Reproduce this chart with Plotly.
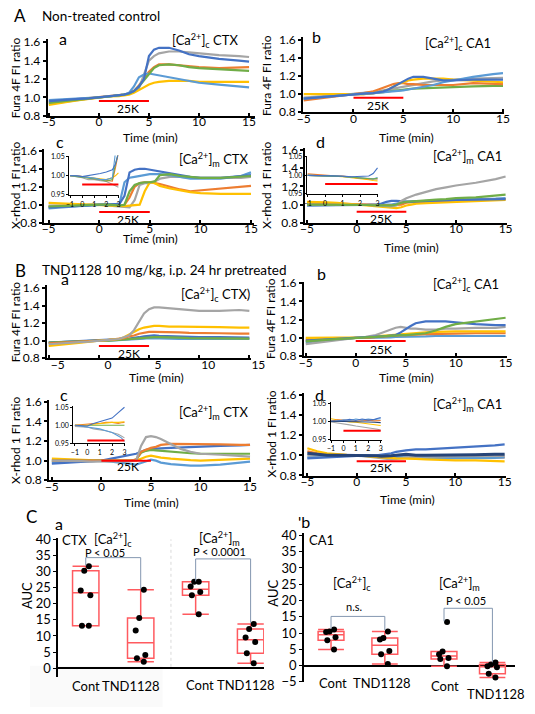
import plotly.graph_objects as go

W, H = 535, 714
FONT = "Lato"

COL = dict(blue="#4472C4", orange="#ED7D31", gray="#A5A5A5", yellow="#FFC000",
           lightblue="#5B9BD5", green="#70AD47", navy="#264478")

# ---------------- data ----------------
T = [-5, -4, -3, -2, -1, 0, 1, 2, 2.5, 3, 3.5, 4, 4.5, 5, 5.5, 6, 7, 8, 9, 10, 12, 14, 15]
TI = [-1, -0.5, 0, 0.5, 1, 1.5, 2, 2.5, 2.75, 3]
X_TICKS = [-5, 0, 5, 10, 15]
Y_TICKS = [0.8, 1.0, 1.2, 1.4, 1.6]
IN_XTICKS = [-1, 0, 1, 2, 3]
IN_YTICKS = [0.95, 1.00, 1.05]
STIM = [0, 5]
STIM_IN = [0, 3]

Aa = {
    "orange":    [0.95,0.96,0.97,0.98,0.99,1.0,1.01,1.02,1.03,1.04,1.07,1.13,1.20,1.28,1.33,1.36,1.36,1.35,1.34,1.33,1.32,1.33,1.33],
    "gray":      [0.93,0.945,0.96,0.97,0.985,1.0,1.01,1.02,1.03,1.04,1.06,1.10,1.25,1.40,1.45,1.48,1.50,1.50,1.49,1.48,1.46,1.45,1.44],
    "yellow":    [0.92,0.94,0.955,0.97,0.985,1.0,1.01,1.015,1.02,1.03,1.05,1.08,1.11,1.14,1.16,1.17,1.18,1.18,1.18,1.17,1.17,1.17,1.17],
    "lightblue": [0.97,0.975,0.98,0.985,0.99,1.0,1.01,1.02,1.03,1.05,1.12,1.22,1.25,1.26,1.25,1.24,1.22,1.20,1.18,1.16,1.14,1.12,1.11],
    "green":     [0.94,0.955,0.965,0.975,0.99,1.0,1.01,1.02,1.03,1.04,1.07,1.12,1.19,1.26,1.32,1.35,1.36,1.35,1.33,1.32,1.31,1.30,1.29],
    "blue":      [0.96,0.97,0.975,0.985,0.99,1.0,1.01,1.02,1.03,1.045,1.07,1.12,1.20,1.45,1.52,1.54,1.54,1.51,1.47,1.45,1.42,1.40,1.39],
}
Ab = {
    "green":     [0.95,0.96,0.97,0.98,0.99,1.0,1.0,1.01,1.01,1.02,1.03,1.04,1.04,1.05,1.055,1.06,1.065,1.07,1.075,1.08,1.085,1.09,1.09],
    "gray":      [0.96,0.97,0.975,0.985,0.99,1.0,1.01,1.02,1.03,1.04,1.05,1.06,1.07,1.08,1.09,1.10,1.12,1.14,1.15,1.16,1.17,1.18,1.18],
    "orange":    [0.93,0.945,0.96,0.97,0.985,1.0,1.01,1.03,1.05,1.07,1.09,1.11,1.12,1.12,1.11,1.11,1.10,1.10,1.10,1.10,1.12,1.11,1.11],
    "yellow":    [1.0,1.0,1.0,0.995,0.995,1.0,1.0,1.01,1.02,1.03,1.05,1.08,1.11,1.13,1.15,1.16,1.17,1.17,1.17,1.16,1.15,1.14,1.13],
    "lightblue": [0.95,0.96,0.97,0.98,0.99,1.0,1.005,1.01,1.015,1.02,1.02,1.025,1.03,1.04,1.05,1.06,1.08,1.10,1.13,1.15,1.19,1.22,1.23],
    "blue":      [0.95,0.96,0.97,0.98,0.99,1.0,1.005,1.01,1.02,1.03,1.05,1.08,1.11,1.14,1.17,1.19,1.19,1.17,1.15,1.15,1.16,1.16,1.16],
}
Ac = {
    "orange":    [0.98,0.985,0.99,0.99,0.995,1.0,1.0,0.99,1.0,1.08,1.20,1.24,1.25,1.25,1.24,1.23,1.20,1.17,1.15,1.16,1.18,1.20,1.21],
    "gray":      [0.99,0.99,0.99,0.995,1.0,1.0,0.99,0.98,0.97,0.97,1.05,1.22,1.24,1.24,1.26,1.29,1.31,1.31,1.30,1.30,1.30,1.30,1.31],
    "yellow":    [1.02,1.015,1.01,1.005,1.0,1.0,0.99,0.985,0.985,0.99,0.995,1.0,1.15,1.25,1.24,1.21,1.18,1.16,1.14,1.13,1.12,1.12,1.12],
    "lightblue": [0.96,0.97,0.98,0.985,0.99,1.0,1.0,1.01,1.25,1.30,1.31,1.32,1.33,1.34,1.34,1.34,1.33,1.31,1.29,1.29,1.29,1.32,1.36],
    "blue":      [0.97,0.975,0.98,0.99,0.995,1.0,1.0,1.01,1.10,1.36,1.39,1.40,1.40,1.39,1.38,1.37,1.35,1.33,1.31,1.30,1.30,1.32,1.33],
    "green":     [0.98,0.985,0.99,0.99,0.995,1.0,1.0,0.99,1.0,1.15,1.22,1.24,1.25,1.25,1.26,1.33,1.34,1.32,1.31,1.30,1.30,1.31,1.32],
}
Ad = {
    "lightblue": [0.99,0.99,0.995,0.995,1.0,1.0,1.0,0.995,0.995,0.995,1.0,1.01,1.02,1.03,1.035,1.035,1.04,1.045,1.05,1.055,1.06,1.065,1.07],
    "orange":    [1.02,1.02,1.015,1.01,1.005,1.0,0.995,0.99,0.99,0.99,0.99,0.995,1.0,1.02,1.025,1.03,1.03,1.035,1.04,1.04,1.05,1.055,1.06],
    "yellow":    [1.03,1.03,1.025,1.02,1.01,1.0,0.99,0.98,0.97,0.965,0.96,0.96,0.97,0.99,1.0,1.01,1.015,1.02,1.025,1.03,1.035,1.045,1.05],
    "blue":      [0.99,0.99,0.99,0.995,0.995,0.995,0.995,1.0,1.01,1.03,1.04,1.04,1.035,1.03,1.03,1.035,1.04,1.045,1.045,1.05,1.055,1.06,1.06],
    "gray":      [1.0,1.0,1.0,1.0,1.0,1.0,0.995,0.99,0.985,0.98,0.98,0.99,1.04,1.07,1.09,1.11,1.14,1.17,1.19,1.21,1.24,1.28,1.31],
    "green":     [1.0,1.0,1.0,1.0,1.0,1.0,0.995,0.99,0.99,0.99,0.99,1.0,1.02,1.03,1.035,1.04,1.05,1.055,1.06,1.07,1.08,1.10,1.11],
}
Ba = {
    "lightblue": [0.98,0.985,0.99,0.99,0.995,1.0,1.0,1.005,1.01,1.01,1.015,1.02,1.025,1.03,1.03,1.03,1.025,1.02,1.02,1.02,1.02,1.02,1.02],
    "blue":      [0.98,0.985,0.99,0.99,0.995,1.0,1.005,1.01,1.02,1.025,1.03,1.04,1.05,1.055,1.06,1.055,1.05,1.045,1.04,1.04,1.04,1.035,1.035],
    "green":     [0.98,0.985,0.99,0.99,0.995,1.0,1.0,1.01,1.01,1.02,1.02,1.03,1.035,1.04,1.04,1.04,1.04,1.035,1.03,1.03,1.03,1.03,1.025],
    "orange":    [0.97,0.975,0.98,0.99,0.995,1.0,1.01,1.02,1.03,1.05,1.06,1.08,1.09,1.10,1.10,1.10,1.10,1.095,1.09,1.09,1.085,1.08,1.08],
    "yellow":    [0.94,0.955,0.965,0.975,0.99,1.0,1.01,1.02,1.04,1.07,1.10,1.13,1.15,1.16,1.17,1.17,1.16,1.16,1.16,1.16,1.155,1.15,1.15],
    "gray":      [0.96,0.97,0.98,0.985,0.99,1.0,1.01,1.02,1.04,1.06,1.12,1.22,1.31,1.36,1.38,1.38,1.37,1.36,1.35,1.34,1.34,1.35,1.34],
}
Bb = {
    "lightblue": [0.95,0.96,0.97,0.98,0.99,1.0,1.0,1.0,1.0,1.005,1.005,1.01,1.01,1.01,1.01,1.015,1.015,1.02,1.02,1.02,1.02,1.02,1.02],
    "orange":    [0.98,0.985,0.99,0.99,0.995,1.0,1.0,1.01,1.015,1.02,1.025,1.03,1.03,1.03,1.035,1.035,1.04,1.04,1.045,1.045,1.05,1.05,1.05],
    "yellow":    [1.0,1.0,1.0,1.0,1.0,1.0,1.005,1.015,1.02,1.025,1.03,1.035,1.04,1.04,1.045,1.05,1.06,1.065,1.07,1.07,1.07,1.07,1.07],
    "gray":      [0.93,0.945,0.96,0.975,0.99,1.0,1.01,1.03,1.05,1.07,1.09,1.11,1.12,1.11,1.10,1.10,1.09,1.09,1.10,1.10,1.11,1.11,1.12],
    "blue":      [0.97,0.975,0.98,0.99,0.995,1.0,1.005,1.01,1.015,1.02,1.025,1.03,1.06,1.10,1.13,1.16,1.18,1.18,1.18,1.17,1.15,1.14,1.14],
    "green":     [0.96,0.97,0.975,0.985,0.99,1.0,1.005,1.01,1.015,1.02,1.02,1.025,1.03,1.03,1.035,1.04,1.05,1.08,1.12,1.15,1.18,1.21,1.22],
}
Bc = {
    "lightblue": [0.98,0.985,0.99,0.995,1.0,1.0,0.99,0.98,0.97,0.965,0.96,0.975,0.99,1.01,1.0,0.98,0.965,0.955,0.95,0.95,0.96,0.98,0.99],
    "yellow":    [1.02,1.015,1.01,1.005,1.0,1.0,1.0,1.0,1.0,1.0,1.0,1.02,1.04,1.05,1.04,1.03,1.02,1.01,1.005,1.0,1.01,1.015,1.02],
    "blue":      [0.97,0.975,0.985,0.99,0.995,1.0,1.02,1.04,1.05,1.06,1.07,1.09,1.11,1.12,1.12,1.125,1.13,1.135,1.14,1.14,1.15,1.155,1.16],
    "green":     [1.0,1.0,1.0,1.0,1.0,1.0,1.0,1.0,1.0,1.0,1.01,1.08,1.10,1.11,1.105,1.10,1.09,1.08,1.075,1.07,1.07,1.07,1.07],
    "orange":    [1.0,1.0,1.0,1.0,1.0,1.0,1.0,1.0,1.0,1.0,1.01,1.09,1.11,1.13,1.14,1.16,1.17,1.17,1.17,1.17,1.165,1.16,1.16],
    "gray":      [1.0,1.0,1.0,0.995,0.99,0.99,0.99,0.99,0.99,0.995,1.0,1.15,1.24,1.25,1.24,1.22,1.17,1.12,1.09,1.07,1.06,1.05,1.04],
}
Bd = {
    "orange":    [1.04,1.02,1.01,1.005,1.0,1.0,0.995,0.99,0.99,0.99,0.99,0.99,0.995,1.0,1.0,0.995,0.99,0.985,0.985,0.98,0.98,0.98,0.98],
    "lightblue": [0.98,0.985,0.99,0.995,1.0,1.0,0.995,0.99,0.99,0.985,0.985,0.98,0.98,0.98,0.98,0.975,0.97,0.97,0.97,0.97,0.97,0.975,0.98],
    "gray":      [1.0,1.0,1.0,1.0,1.0,1.0,0.99,0.98,0.97,0.965,0.96,0.965,0.97,0.98,0.985,0.985,0.99,0.99,0.99,0.99,0.99,0.995,1.0],
    "yellow":    [1.07,1.04,1.02,1.01,1.005,1.0,0.995,0.985,0.98,0.98,0.975,0.97,0.97,0.97,0.965,0.965,0.96,0.955,0.955,0.95,0.95,0.945,0.94],
    "blue":      [0.97,0.975,0.985,0.99,0.995,1.0,1.0,1.0,1.005,1.01,1.02,1.035,1.045,1.05,1.055,1.06,1.06,1.065,1.07,1.075,1.085,1.10,1.11],
    "navy":      [1.02,1.01,1.0,1.0,1.0,1.0,1.0,0.995,0.99,0.99,0.995,1.0,1.005,1.01,1.005,1.0,1.0,1.0,1.0,1.0,1.005,1.01,1.01],
}
# insets (-1 .. 3 min)
Ac_in = {
    "gray":      [1.0,0.998,0.995,0.99,0.99,0.987,0.985,0.978,0.975,0.97],
    "yellow":    [1.0,1.0,0.998,0.996,0.995,0.992,0.99,0.995,1.0,1.008],
    "orange":    [1.0,1.0,0.998,0.995,0.993,0.99,0.988,0.986,1.02,1.06],
    "green":     [1.0,0.998,0.996,0.994,0.992,0.99,0.986,0.99,1.03,1.06],
    "lightblue": [1.0,1.0,0.998,0.996,0.994,0.99,0.99,0.995,1.06,1.08],
    "blue":      [1.0,1.0,0.998,1.0,1.003,1.006,1.01,1.016,1.03,1.06],
}
Ad_in = {
    "yellow":    [1.0,1.0,0.999,0.998,0.996,0.994,0.99,0.988,0.986,0.985],
    "orange":    [1.004,1.002,1.0,0.999,0.998,0.996,0.992,0.99,0.99,0.99],
    "gray":      [1.0,1.0,0.999,0.998,0.997,0.995,0.993,0.992,0.99,0.99],
    "lightblue": [1.0,1.0,0.999,0.998,0.997,0.995,0.993,0.99,0.99,0.994],
    "green":     [1.0,1.0,0.999,0.998,0.997,0.995,0.992,0.99,0.99,0.992],
    "blue":      [1.0,1.0,0.999,0.998,0.998,0.996,0.996,0.998,1.005,1.02],
}
Bc_in = {
    "gray":      [0.997,0.996,0.995,0.99,0.988,0.985,0.98,0.975,0.97,0.965],
    "lightblue": [1.0,0.998,0.995,0.993,0.99,0.985,0.98,0.97,0.965,0.955],
    "green":     [1.0,1.0,1.0,0.999,0.998,0.999,1.0,0.999,0.999,1.0],
    "orange":    [1.0,1.002,1.002,1.005,1.005,1.008,1.008,1.005,1.007,1.008],
    "yellow":    [1.0,1.0,1.0,1.003,1.005,1.006,1.008,1.008,1.01,1.01],
    "blue":      [1.0,1.0,0.998,1.005,1.01,1.015,1.02,1.035,1.042,1.05],
}
Bd_in = {
    "gray":      [0.998,0.996,0.994,0.99,0.987,0.985,0.982,0.98,0.978,0.975],
    "yellow":    [1.007,1.004,1.0,0.998,0.997,0.995,0.993,0.991,0.99,0.988],
    "orange":    [1.0,1.004,1.003,1.002,1.0,1.002,1.003,1.001,1.002,1.002],
    "lightblue": [1.0,1.0,1.004,1.002,1.006,1.003,1.006,1.004,1.006,1.007],
    "blue":      [1.0,1.0,1.002,1.005,1.002,1.006,1.003,1.005,1.008,1.01],
    "navy":      [1.0,1.0,1.0,1.0,0.999,0.998,0.998,0.997,0.996,0.996],
}
# AUC box data
GROUPS = ["Cont", "TND1128", "Cont", "TND1128"]
CTX_AUC = [
    [31.75, 30.3, 24.2, 22.7, 13.2, 13.2],
    [24.4, 15.6, 11.7, 4.1, 3.05, 2.0],
    [26.9, 26.9, 25.4, 23.7, 22.7, 16.8],
    [13.7, 12.2, 9.5, 8.1, 4.6, 1.5],
]
CA1_AUC = [
    [11.1, 10.5, 10.3, 8.7, 7.8, 4.9],
    [10.5, 8.5, 8.0, 4.5, 3.5, 0.5],
    [13.4, 4.3, 3.5, 2.3, 2.0, -0.2],
    [0.9, 0.3, -0.2, -0.5, -2.5, -3.7],
]
CTX_POS = [1, 2, 3, 4]
CA1_POS = [1, 2, 3.1, 4.0]
AUC_TICKS_A = [0, 5, 10, 15, 20, 25, 30, 35, 40]
AUC_TICKS_B = [-5, 0, 5, 10, 15, 20, 25, 30, 35, 40]

# ---------------- helpers ----------------
fig = go.Figure()
annotations, shapes = [], []
layout = {}
n_ax = [0]


def lin(va, pa, vb, pb, P0, P1):
    s = (vb - va) / (pb - pa)
    return [va + (P0 - pa) * s, va + (P1 - pa) * s]


def add_axes(xcal, xpx, ycal, ypx, xopt, yopt):
    n_ax[0] += 1
    n = n_ax[0]
    sfx = "" if n == 1 else str(n)
    xr = lin(*xcal, xpx[0], xpx[1])
    yr = lin(*ycal, ypx[1], ypx[0])
    layout["xaxis" + sfx] = dict(domain=[xpx[0] / W, xpx[1] / W], range=xr,
                                 anchor="y" + sfx, **xopt)
    layout["yaxis" + sfx] = dict(domain=[1 - ypx[1] / H, 1 - ypx[0] / H], range=yr,
                                 anchor="x" + sfx, **yopt)
    return "x" + sfx, "y" + sfx


def txt(s, x, y, size=12, angle=0, anchor="center", color="black"):
    annotations.append(dict(text=s, x=x / W, y=1 - y / H, xref="paper", yref="paper",
                            showarrow=False, xanchor=anchor, yanchor="middle",
                            textangle=angle, font=dict(family=FONT, size=size, color=color)))


TF = dict(family=FONT, size=12, color="black")
main_x = dict(showline=True, linecolor="black", linewidth=2, ticks="inside", ticklen=3,
              tickwidth=2, tickcolor="black", showgrid=False, zeroline=False,
              tickmode="array", tickvals=X_TICKS, tickfont=TF, ticklabelstandoff=-6)
main_y = dict(showline=True, linecolor="black", linewidth=2, ticks="outside", ticklen=3,
              tickwidth=1.5, tickcolor="black", showgrid=False, zeroline=False,
              tickmode="array", tickvals=Y_TICKS, ticktext=["%.1f" % v for v in Y_TICKS],
              tickfont=TF)
in_font = dict(family=FONT, size=7, color="black")
in_x = dict(showline=True, linecolor="black", linewidth=1, ticks="outside", ticklen=2,
            tickcolor="black", showgrid=False, zeroline=False, tickmode="array",
            tickvals=IN_XTICKS, tickfont=in_font)
in_y = dict(showline=True, linecolor="black", linewidth=1, ticks="outside", ticklen=2,
            tickcolor="black", showgrid=False, zeroline=False, tickmode="array",
            tickvals=IN_YTICKS, ticktext=["%.2f" % v for v in IN_YTICKS], tickfont=in_font)

RED = "#FF0000"

# faint scan background patches (bottom of panel C)
shapes += [
    dict(type="rect", xref="paper", yref="paper", x0=25 / W, x1=163 / W, y0=0, y1=1 - 672 / H,
         fillcolor="#FAFAFA", line=dict(width=0), layer="below"),
]

# main panels: data, xcal, xpx, ycal, ypx, bar level, label shift
MAIN = [
    (Aa, (0, 96.7, 15, 253), (43.3, 259), (1.6, 36, 0.8, 111), (33, 111.2), 0.96, 0),
    (Ab, (0, 361.7, 15, 517.3), (309.3, 518.5), (1.6, 33.3, 0.8, 107.3), (31, 107.5), 0.958, 0),
    (Ac, (0, 97, 15, 255), (40, 258.5), (1.6, 146.7, 0.8, 220), (145, 220.2), 0.92, 0),
    (Ad, (0, 365, 15, 520), (311.7, 521), (1.6, 146, 0.8, 220), (144, 220.2), 0.922, 0),
    (Ba, (0, 96.7, 15, 253.3), (42.7, 254.5), (1.6, 286.7, 0.8, 358.3), (284, 358.5), 0.94, 9),
    (Bb, (0, 364, 15, 520), (310, 521), (1.6, 281.7, 0.8, 356), (280, 356.2), 0.965, 0),
    (Bc, (0, 99.3, 15, 254), (45, 255.5), (1.6, 402.7, 0.8, 482.7), (401, 482.9), 1.0, 0),
    (Bd, (0, 365, 15, 519), (310, 520), (1.6, 396, 0.8, 477.7), (394, 477.9), 0.94, 0),
]
for data, xcal, xpx, ycal, ypx, bar, shift in MAIN:
    xo = dict(main_x)
    if shift:
        xo["ticklabelshift"] = shift
    xa, ya = add_axes(xcal, xpx, ycal, ypx, xo, main_y)
    for key, vals in data.items():
        fig.add_trace(go.Scatter(x=T, y=vals, mode="lines", xaxis=xa, yaxis=ya,
                                 line=dict(color=COL[key], width=2.2 if key != "navy" else 3),
                                 showlegend=False, hoverinfo="skip"))
    shapes.append(dict(type="line", xref=xa, yref=ya, x0=STIM[0], x1=STIM[1], y0=bar, y1=bar,
                       line=dict(color=RED, width=2)))

INSETS = [
    (Ac_in, (-1, 66.7, 3, 117), (65.7, 118), (1.05, 152.7, 0.95, 191.7), (151.5, 191.9), 0.977),
    (Ad_in, (-1, 314, 3, 386.7), (313, 387.5), (1.05, 152.7, 0.95, 190.7), (151.5, 190.9), 0.977),
    (Bc_in, (-1, 71.7, 3, 123.3), (70, 124), (1.05, 408.3, 0.95, 445), (407, 445.2), 0.958),
    (Bd_in, (-1, 338.3, 3, 390), (338, 391), (1.05, 404, 0.95, 441), (403, 441.2), 0.974),
]
for data, xcal, xpx, ycal, ypx, bar in INSETS:
    xa, ya = add_axes(xcal, xpx, ycal, ypx, in_x, in_y)
    for key, vals in data.items():
        fig.add_trace(go.Scatter(x=TI, y=vals, mode="lines", xaxis=xa, yaxis=ya,
                                 line=dict(color=COL[key], width=1.1),
                                 showlegend=False, hoverinfo="skip"))
    shapes.append(dict(type="line", xref=xa, yref=ya, x0=STIM_IN[0], x1=STIM_IN[1], y0=bar, y1=bar,
                       line=dict(color=RED, width=2)))

# box panels
BF = dict(family=FONT, size=13, color="black")
box_x = dict(showline=False, showticklabels=False, ticks="", showgrid=False, zeroline=False)


def box_y(ticks):
    return dict(showline=True, linecolor="black", linewidth=1.5, ticks="outside", ticklen=3,
                tickcolor="black", showgrid=False, zeroline=True, zerolinecolor="black",
                zerolinewidth=1.5, tickmode="array", tickvals=ticks, tickfont=BF)


BOXES = [
    (CTX_AUC, CTX_POS, (1, 83, 2, 140.2), (54.3, 268.5), (40, 543.3, 0, 674.3), (541.5, 683), AUC_TICKS_A),
    (CA1_AUC, CA1_POS, (1, 338.3, 2, 394.3), (310, 530), (40, 539, 0, 671.7), (537, 689), AUC_TICKS_B),
]
box_axes = []
for data, pos, xcal, xpx, ycal, ypx, ticks in BOXES:
    xa, ya = add_axes(xcal, xpx, ycal, ypx, box_x, box_y(ticks))
    box_axes.append((xa, ya))
    for vals, p in zip(data, pos):
        fig.add_trace(go.Box(y=vals, x=[p] * len(vals), xaxis=xa, yaxis=ya, width=0.48,
                             boxpoints="all", jitter=0.45, pointpos=0, quartilemethod="exclusive",
                             whiskerwidth=1, marker=dict(color="black", size=6),
                             line=dict(color="#FF5A5F", width=1.5),
                             fillcolor="rgba(255,255,255,0)", showlegend=False,
                             hoverinfo="skip"))

BR = dict(color="#8497B0", width=1)
(xa1, ya1), (xa2, ya2) = box_axes
shapes += [
    dict(type="path", xref=xa1, yref=ya1, path="M 1,31.9 L 1,34.4 L 2,34.4 L 2,24.6", line=BR),
    dict(type="path", xref=xa1, yref=ya1, path="M 3,27.0 L 3,34.0 L 4,34.0 L 4,14.1", line=BR),
    dict(type="path", xref=xa2, yref=ya2, path="M 1,11.3 L 1,15.1 L 2,15.1 L 2,10.9", line=BR),
    dict(type="path", xref=xa2, yref=ya2, path="M 3.1,13.6 L 3.1,17.6 L 4,17.6 L 4,1.0", line=BR),
    dict(type="line", xref="paper", yref="paper", x0=171.7 / W, x1=171.7 / W,
         y0=1 - 673 / H, y1=1 - 543 / H, line=dict(color="#D9D9D9", width=1, dash="dot")),
]

# ---------------- texts ----------------
CAc = "[Ca<sup>2+</sup>]<sub>c</sub>"
CAm = "[Ca<sup>2+</sup>]<sub>m</sub>"
txt("A", 15, 9, 17)
txt("Non-treated control", 35, 9, 13.5, anchor="left")
txt("B", 15, 268.3, 17)
txt("TND1128 10 mg/kg, i.p. 24 hr pretreated", 35, 268.3, 13.5, anchor="left")
txt("C", 26.7, 520, 17)

for s, x, y in [("a", 59, 31.7), ("b", 323.3, 30), ("c", 56.7, 136.7), ("d", 327.3, 136.7),
                ("a", 61.7, 276.7), ("b", 328.3, 271.7), ("c", 60, 395), ("d", 326.7, 395),
                ("a", 55, 526.7), ("'b", 310, 525)]:
    txt(s, x, y, 16)

for s, x, y in [(CAc + " CTX", 206.7, 34), (CAc + " CA1", 470, 37), (CAm + " CTX", 216.7, 155.5),
                (CAm + " CA1", 480, 152), (CAc + " CTX)", 218.3, 293.3), (CAc + " CA1", 478.3, 283.3),
                (CAm + " CTX", 216.7, 413.3), (CAm + " CA1", 480, 405)]:
    txt(s, x, y, 13)

for x, y in [(150, 133), (417, 133), (150, 236.5), (421.7, 245), (157, 378), (416.7, 378),
             (151.7, 505), (418.3, 502.7)]:
    txt("Time (min)", x, y, 12)

for x, y in [(126.7, 104), (387.3, 100), (126.7, 216.7), (390, 215.7), (128.3, 353.3), (390, 349.3),
             (126.7, 469), (390, 470)]:
    txt("25K", x, y, 12)

for s, x, y in [("Fura 4F FI ratio", 10, 72), ("Fura 4F FI ratio", 271, 70),
                ("X-rhod 1 FI ratio", 10, 182), ("X-rhod 1 FI ratio", 271, 182),
                ("Fura 4F FI ratio", 10, 321), ("Fura 4F FI ratio", 276, 318),
                ("X-rhod 1 FI ratio", 10, 442), ("X-rhod 1 FI ratio", 276, 436)]:
    txt(s, x, y, 12, angle=-90)

txt("AUC", 21.7, 600, 13, angle=-90)
txt("AUC", 278.3, 598, 13, angle=-90)
txt("CTX", 71.7, 543.3, 13)
txt(CAc, 111.7, 543.3, 13)
txt(CAm, 222.5, 541.7, 13)
txt("CA1", 328.3, 543.3, 13)
txt(CAc, 360, 588.3, 13)
txt(CAm, 471.7, 588.3, 13)
txt("P < 0.05", 103, 556.7, 11)
txt("P < 0.0001", 222.7, 555, 11)
txt("n.s.", 361.7, 611.7, 11)
txt("P < 0.05", 479.3, 605, 11)

for s, x, y in zip(GROUPS, [83.3, 130, 201.7, 250], [692.7, 692.7, 691.7, 691.7]):
    txt(s, x, y, 13)
for s, x, y in zip(GROUPS, [340, 391.7, 456.7, 510], [690, 690, 692.7, 700.7]):
    txt(s, x, y, 13)

fig.update_layout(width=W, height=H, margin=dict(l=0, r=0, t=0, b=0),
                  paper_bgcolor="white", plot_bgcolor="rgba(0,0,0,0)",
                  annotations=annotations, shapes=shapes, showlegend=False,
                  font=dict(family=FONT, color="black"), **layout)
fig.write_html("out.html")
